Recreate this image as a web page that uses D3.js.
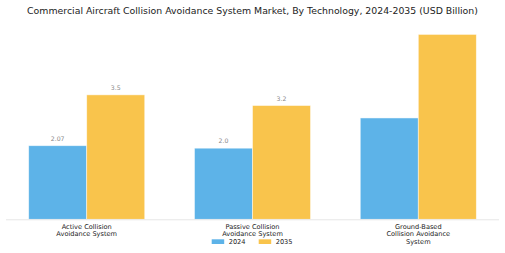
<!DOCTYPE html>
<html>
<head>
<meta charset="utf-8">
<script src="https://cdn.jsdelivr.net/npm/d3@7"></script>
<style>
  body { margin: 0; background: #fff; }
  text { font-family: "DejaVu Sans", sans-serif; }
</style>
</head>
<body>
<svg class="chart"></svg>
<script>
var categories = [['Active Collision', 'Avoidance System'],
                  ['Passive Collision', 'Avoidance System'],
                  ['Ground-Based', 'Collision Avoidance', 'System']];
var years = ['2024', '2035'];
var values2024 = [2.07, 2.0, 2.85];
var values2035 = [3.5, 3.2, 5.2];
var shownLabels = [true, true, false];   // third group has no value labels in the source
var colors = ['#5DB3E8', '#F9C44C'];

var width = 505, height = 253;

var svg = d3.select('.chart')
    .attr('width', width)
    .attr('height', height);

var x = d3.scaleBand()
    .domain(d3.range(categories.length))
    .range([3.8, 501.2])
    .paddingInner(0.3)
    .paddingOuter(0.15);

var xs = d3.scaleBand()
    .domain(years)
    .range([0, x.bandwidth()]);

var y = d3.scaleLinear()
    .domain([0, 5.2])
    .range([219.3, 34.4]);

function fmt(v) { return v % 1 === 0 ? v.toFixed(1) : String(v); }

svg.append('text')
    .attr('x', width / 2)
    .attr('y', 14)
    .attr('text-anchor', 'middle')
    .attr('font-size', 9.35)
    .attr('fill', '#222')
    .text('Commercial Aircraft Collision Avoidance System Market, By Technology, 2024-2035 (USD Billion)');

var series = [values2024, values2035];

var groups = svg.selectAll('g.cat')
    .data(categories)
    .enter().append('g')
    .attr('class', 'cat')
    .attr('transform', function(d, i) { return 'translate(' + x(i) + ',0)'; });

groups.each(function(d, i) {
    var g = d3.select(this);
    years.forEach(function(yr, k) {
        var v = series[k][i];
        g.append('rect')
            .attr('x', xs(yr))
            .attr('y', y(v))
            .attr('width', xs.bandwidth())
            .attr('height', y(0) - y(v))
            .attr('fill', colors[k])
            .attr('stroke', '#fff')
            .attr('stroke-opacity', 0.6)
            .attr('stroke-width', 0.8);
        if (shownLabels[i]) {
            g.append('text')
                .attr('x', xs(yr) + xs.bandwidth() / 2)
                .attr('y', y(v) - 5)
                .attr('text-anchor', 'middle')
                .attr('font-size', 6.2)
                .attr('fill', '#888')
                .text(fmt(v));
        }
    });
});

// baseline
svg.append('line')
    .attr('x1', 6).attr('x2', 499)
    .attr('y1', y(0) + 0.5).attr('y2', y(0) + 0.5)
    .attr('stroke', '#e6e6e6')
    .attr('stroke-width', 1);

// category labels
categories.forEach(function(lines, i) {
    var t = svg.append('text')
        .attr('x', x(i) + x.bandwidth() / 2)
        .attr('y', 228.5)
        .attr('text-anchor', 'middle')
        .attr('font-size', 6.6)
        .attr('fill', '#222');
    lines.forEach(function(line, j) {
        t.append('tspan')
            .attr('x', x(i) + x.bandwidth() / 2)
            .attr('dy', j === 0 ? 0 : 7.7)
            .text(line);
    });
});

// legend
var legend = svg.append('g');
var legendX = [211.7, 258.7];
years.forEach(function(yr, k) {
    legend.append('rect')
        .attr('x', legendX[k])
        .attr('y', 239.3)
        .attr('width', 12.5)
        .attr('height', 4.7)
        .attr('fill', colors[k]);
    legend.append('text')
        .attr('x', legendX[k] + 17)
        .attr('y', 244.3)
        .attr('font-size', 6.6)
        .attr('fill', '#222')
        .text(yr);
});
</script>
</body>
</html>
